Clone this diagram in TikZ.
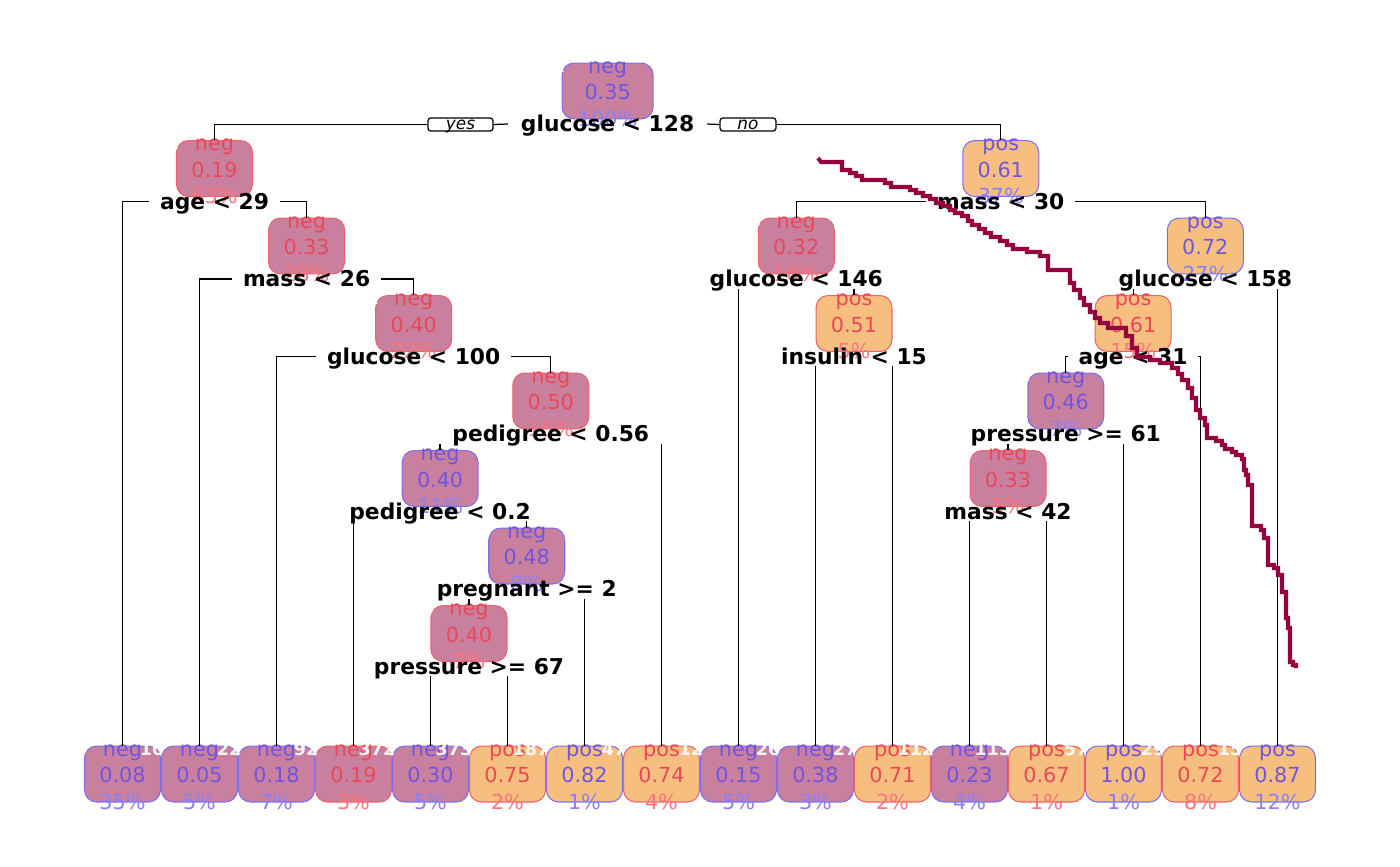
\documentclass[tikz,border=0pt]{standalone}
\usepackage{fontspec}
\setmainfont{DejaVu Sans}
\usetikzlibrary{calc}
\definecolor{negfill}{RGB}{201,128,158}
\definecolor{posfill}{RGB}{247,191,127}
\definecolor{bluline}{RGB}{125,110,240}
\definecolor{redline}{RGB}{242,96,106}
\definecolor{blutxt}{RGB}{112,86,222}
\definecolor{redtxt}{RGB}{234,72,88}
\definecolor{blupct}{RGB}{138,128,246}
\definecolor{redpct}{RGB}{255,116,122}
\definecolor{stair}{RGB}{150,0,62}
\def\bw{21.6pt}
\tikzset{
 nbox/.style={rounded corners=3.4pt, minimum width=\bw, minimum height=15.9pt, inner sep=0pt, line width=0.3pt},
 ctext/.style={font=\fontsize{5.9}{7}\selectfont, inner sep=0pt, anchor=base},
 nnum/.style={font=\fontsize{5}{6}\selectfont\bfseries, inner sep=0pt, text=white, text opacity=0.9},
 split/.style={font=\fontsize{6.2}{7}\selectfont\bfseries, text height=4.5pt, text depth=0pt, inner xsep=2.85pt, inner ysep=0.31pt},
 yn/.style={draw, rounded corners=0.8pt, font=\fontsize{4.8}{5}\selectfont\itshape, minimum height=3.7pt, inner xsep=0pt, inner ysep=0pt, line width=0.35pt, text height=3.2pt, text depth=0.4pt},
 br/.style={line width=0.35pt, black},
 stairline/.style={line width=1.15pt, stair},
}
\newcommand\tnode[9]{%
 \node[nbox, fill=#4, draw=#5line] (#1) at (#2,#3) {};
 \path (#1.center) ++(0,-18) node[ctext, text=#5txt] {#6};
 \path (#1.center) ++(0,8.5) node[ctext, text=#5txt] {#7};
 \path (#1.center) ++(0,35) node[ctext, text=#5pct] {#8};
 \path (#1.west) ++(4,-19) node[nnum, anchor=base east] {#9};
}
\begin{document}
\begin{tikzpicture}[x=0.01cm, y=-0.01cm]
\fill[white] (0,0) rectangle (1400,866);
\useasboundingbox (0,0) rectangle (1400,866);
% internal nodes
\def\bw{25.9pt}
\tnode{n1}{607.6}{91}{negfill}{blu}{neg}{0.35}{100\%}{1}
\def\bw{21.6pt}
\tnode{n2}{214.5}{168.5}{negfill}{red}{neg}{0.19}{63\%}{2}
\tnode{n3}{1000.8}{168.5}{posfill}{blu}{pos}{0.61}{37\%}{3}
\tnode{n5}{306.6}{246}{negfill}{red}{neg}{0.33}{28\%}{5}
\tnode{n6}{796.25}{246}{negfill}{red}{neg}{0.32}{10\%}{6}
\tnode{n7}{1205.3}{246}{posfill}{blu}{pos}{0.72}{27\%}{7}
\tnode{n11}{413.7}{323.5}{negfill}{red}{neg}{0.40}{22\%}{11}
\tnode{n13}{854}{323.5}{posfill}{red}{pos}{0.51}{5\%}{13}
\tnode{n14}{1133.1}{323.5}{posfill}{red}{pos}{0.61}{15\%}{14}
\tnode{n23}{550.8}{401}{negfill}{red}{neg}{0.50}{15\%}{23}
\tnode{n28}{1065.75}{401}{negfill}{blu}{neg}{0.46}{7\%}{28}
\tnode{n46}{440.1}{478.5}{negfill}{blu}{neg}{0.40}{11\%}{46}
\tnode{n56}{1008}{478.5}{negfill}{red}{neg}{0.33}{5\%}{56}
\tnode{n93}{526.75}{556}{negfill}{blu}{neg}{0.48}{8\%}{93}
\tnode{n186}{469}{633.5}{negfill}{red}{neg}{0.40}{7\%}{186}
% leaves
\tnode{L0}{122.5}{774}{negfill}{blu}{neg}{0.08}{35\%}{4}
\tnode{L1}{199.5}{774}{negfill}{blu}{neg}{0.05}{5\%}{10}
\tnode{L2}{276.5}{774}{negfill}{blu}{neg}{0.18}{7\%}{22}
\tnode{L3}{353.5}{774}{negfill}{red}{neg}{0.19}{3\%}{92}
\tnode{L4}{430.5}{774}{negfill}{blu}{neg}{0.30}{5\%}{372}
\tnode{L5}{507.5}{774}{posfill}{red}{pos}{0.75}{2\%}{373}
\tnode{L6}{584.5}{774}{posfill}{blu}{pos}{0.82}{1\%}{187}
\tnode{L7}{661.5}{774}{posfill}{red}{pos}{0.74}{4\%}{47}
\tnode{L8}{738.5}{774}{negfill}{blu}{neg}{0.15}{5\%}{12}
\tnode{L9}{815.5}{774}{negfill}{blu}{neg}{0.38}{3\%}{26}
\tnode{L10}{892.5}{774}{posfill}{red}{pos}{0.71}{2\%}{27}
\tnode{L11}{969.5}{774}{negfill}{blu}{neg}{0.23}{4\%}{112}
\tnode{L12}{1046.5}{774}{posfill}{red}{pos}{0.67}{1\%}{113}
\tnode{L13}{1123.5}{774}{posfill}{blu}{pos}{1.00}{1\%}{57}
\tnode{L14}{1200.5}{774}{posfill}{red}{pos}{0.72}{8\%}{29}
\tnode{L15}{1277.5}{774}{posfill}{blu}{pos}{0.87}{12\%}{15}
% split labels
\node[split, inner xsep=3.5pt] (s1) at (607.6,124) {glucose < 128};
\node[split] (s2) at (214.5,201.5) {age < 29};
\node[split] (s3) at (1000.8,201.5) {mass < 30};
\node[split] (s5) at (306.6,279) {mass < 26};
\node[split] (s6) at (796.25,279) {glucose < 146};
\node[split] (s7) at (1205.3,279) {glucose < 158};
\node[split] (s11) at (413.7,356.5) {glucose < 100};
\node[split] (s13) at (854,356.5) {insulin < 15};
\node[split] (s14) at (1133.1,356.5) {age < 31};
\node[split] (s23) at (550.8,434) {pedigree < 0.56};
\node[split] (s28) at (1065.75,434) {pressure >= 61};
\node[split] (s46) at (440.1,511.5) {pedigree < 0.2};
\node[split] (s56) at (1008,511.5) {mass < 42};
\node[split] (s93) at (526.75,589) {pregnant >= 2};
\node[split] (s186) at (469,666.5) {pressure >= 67};
\node[yn, minimum width=18.5pt] (yes) at (460.5,124.5) {yes};
\node[yn, minimum width=15.9pt] (no) at (748,124.5) {no};
% branches
\draw[br] (s1.west) -- (yes.east);
\draw[br] (yes.west) -| (n2.north);
\draw[br] (s1.east) -- (no.west);
\draw[br] (no.east) -| (n3.north);
\draw[br] (s2.west) -| (L0.north);
\draw[br] (s2.east) -| (n5.north);
\draw[br] (s5.west) -| (L1.north);
\draw[br] (s5.east) -| (n11.north);
\draw[br] (s11.west) -| (L2.north);
\draw[br] (s11.east) -| (n23.north);
\draw[br] (n46.north |- s23.south) -- (n46.north);
\draw[br] (L7.north |- s23.south) -- (L7.north);
\draw[br] (L3.north |- s46.south) -- (L3.north);
\draw[br] (n93.north |- s46.south) -- (n93.north);
\draw[br] (n186.north |- s93.south) -- (n186.north);
\draw[br] (L6.north |- s93.south) -- (L6.north);
\draw[br] (L4.north |- s186.south) -- (L4.north);
\draw[br] (L5.north |- s186.south) -- (L5.north);
\draw[br] (s3.west) -| (n6.north);
\draw[br] (s3.east) -| (n7.north);
\draw[br] (L8.north |- s6.south) -- (L8.north);
\draw[br] (n13.north |- s6.south) -- (n13.north);
\draw[br] (L9.north |- s13.south) -- (L9.north);
\draw[br] (L10.north |- s13.south) -- (L10.north);
\draw[br] (n14.north |- s7.south) -- (n14.north);
\draw[br] (L15.north |- s7.south) -- (L15.north);
\draw[br] (s14.west) -| (n28.north);
\draw[br] (s14.east) -| (L14.north);
\draw[br] (n56.north |- s28.south) -- (n56.north);
\draw[br] (L13.north |- s28.south) -- (L13.north);
\draw[br] (L11.north |- s56.south) -- (L11.north);
\draw[br] (L12.north |- s56.south) -- (L12.north);
% staircase curve
\draw[stairline] (818,158) -- (821,162) -- (842,162) -- (842,170) -- (850,170) -- (850,173) -- (856,173) -- (856,176) -- (862,176) -- (862,180) -- (885,180) -- (885,183) -- (891,183) -- (891,187) -- (910,187) -- (910,190) -- (916,190) -- (916,193) -- (923,193) -- (923,196) -- (930,196) -- (930,199) -- (936,199) -- (936,203) -- (943,203) -- (943,206) -- (950,206) -- (950,210) -- (955,210) -- (955,213) -- (962,213) -- (962,216) -- (968,216) -- (968,221) -- (972,221) -- (972,225) -- (979,225) -- (979,229) -- (985,229) -- (985,233) -- (991,233) -- (991,237) -- (1000,237) -- (1000,241) -- (1007,241) -- (1007,245) -- (1013,245) -- (1013,249) -- (1027,249) -- (1027,252) -- (1040,252) -- (1040,256) -- (1048,256) -- (1048,270) -- (1070,270) -- (1070,283) -- (1074,283) -- (1074,290) -- (1080,290) -- (1080,298) -- (1084,298) -- (1084,305) -- (1090,305) -- (1090,312) -- (1095,312) -- (1095,318) -- (1100,318) -- (1100,323) -- (1108,323) -- (1108,328) -- (1126,328) -- (1126,336) -- (1132,336) -- (1132,348) -- (1137,348) -- (1137,357) -- (1150,357) -- (1150,360) -- (1160,360) -- (1160,363) -- (1172,363) -- (1172,368) -- (1178,368) -- (1178,374) -- (1182,374) -- (1182,380) -- (1188,380) -- (1188,388) -- (1192,388) -- (1192,398) -- (1196,398) -- (1196,410) -- (1200,410) -- (1200,418) -- (1205,418) -- (1205,425) -- (1207,425) -- (1207,438) -- (1216,438) -- (1216,441) -- (1222,441) -- (1222,445) -- (1225,445) -- (1225,449) -- (1232,449) -- (1232,452) -- (1236,452) -- (1236,455) -- (1242,455) -- (1242,459) -- (1244,459) -- (1244,470) -- (1246,470) -- (1246,475) -- (1248,475) -- (1248,485) -- (1252,485) -- (1252,526) -- (1261,526) -- (1261,530) -- (1264,530) -- (1264,538) -- (1268,538) -- (1268,565) -- (1274,565) -- (1274,568) -- (1278,568) -- (1278,575) -- (1282,575) -- (1282,592) -- (1286,592) -- (1286,618) -- (1288,618) -- (1288,628) -- (1290,628) -- (1290,662) -- (1293,662) -- (1293,665) -- (1296,665) -- (1296,668);
\end{tikzpicture}
\end{document}
